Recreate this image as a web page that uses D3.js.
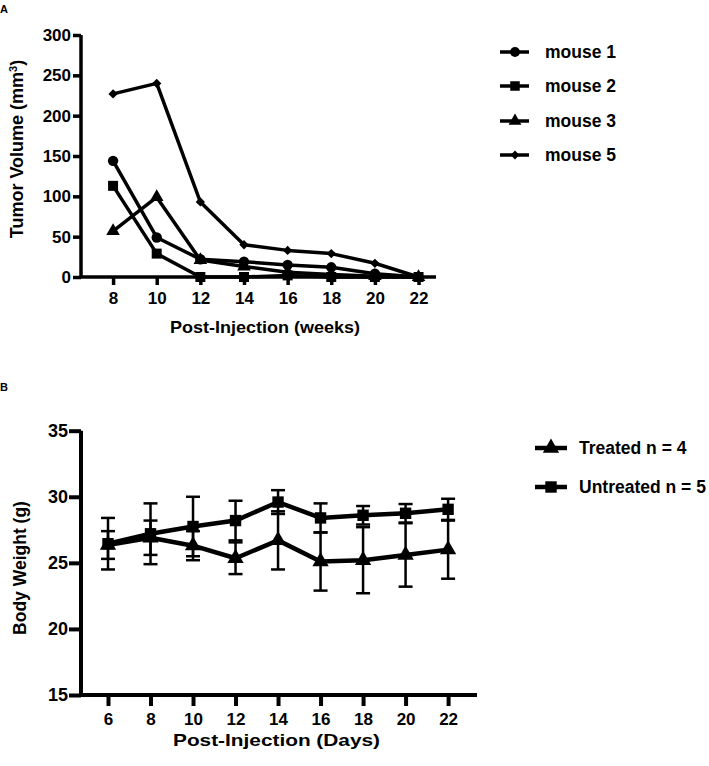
<!DOCTYPE html>
<html><head><meta charset="utf-8">
<script src="https://cdn.jsdelivr.net/npm/d3@7"></script>
<style>body{margin:0;background:#fff}text{font-family:"Liberation Sans",Arial,sans-serif;font-weight:bold;fill:#000}</style>
</head><body><svg id="c" width="709" height="766"></svg>
<script>
// Panel A data
const weeks = [8,10,12,14,16,18,20,22];
const mouse1 = [144,49,22,19,15,12,4,0];
const mouse2 = [113,29,0,0,2,0,0,0];
const mouse3 = [57,99,21,13,6,3,1,0];
const mouse5 = [227,240,93,40,33,29,17,0];
const seriesA = [
  {name:"mouse 1", values:mouse1, sym:"circle"},
  {name:"mouse 2", values:mouse2, sym:"square"},
  {name:"mouse 3", values:mouse3, sym:"triangle"},
  {name:"mouse 5", values:mouse5, sym:"diamond"}
];
const ticksAy = [0,50,100,150,200,250,300];

// Panel B data
const days = [6,8,10,12,14,16,18,20,22];
const treatedMean = [26.35,26.9,26.3,25.35,26.7,25.1,25.2,25.6,26.0];
const treatedSD   = [1.05,1.3,1.1,1.2,2.2,2.2,2.5,2.4,2.2];
const untreatedMean = [26.45,27.2,27.75,28.2,29.6,28.4,28.6,28.75,29.05];
const untreatedSD   = [1.95,2.3,2.25,1.5,0.9,1.1,0.7,0.7,0.8];
const ticksBy = [15,20,25,30,35];
const seriesB = [
  {name:"Treated n = 4", mean:treatedMean, sd:treatedSD, sym:"triangle"},
  {name:"Untreated n = 5", mean:untreatedMean, sd:untreatedSD, sym:"square"}
];

const svg = d3.select("#c");
const symType = {circle:d3.symbolCircle, square:d3.symbolSquare, triangle:d3.symbolTriangle, diamond:d3.symbolDiamond2};

// ---------- Panel A ----------
svg.append("text").attr("x",0).attr("y",13).style("font-size","11px").text("A");
const xA = d3.scaleLinear().domain([6.53,22.8]).range([81,436]);
const yA = d3.scaleLinear().domain([0,300]).range([277,35]);
const sizeA = {circle:85, square:100, triangle:80, diamond:55};

const gA = svg.append("g");
const axAy = gA.append("g").attr("transform","translate(81,0)")
  .call(d3.axisLeft(yA).tickValues(ticksAy).tickSize(8).tickPadding(2));
const axAx = gA.append("g").attr("transform","translate(0,277)")
  .call(d3.axisBottom(xA).tickValues(weeks).tickSize(8).tickPadding(7));
[axAy,axAx].forEach(a=>{
  a.selectAll("path").attr("stroke","#000").attr("stroke-width",3.5);
  a.selectAll("line").attr("stroke","#000").attr("stroke-width",3.5);
  a.selectAll("text").style("font-size","17px").attr("fill","#000");
});
axAy.select("path").attr("d","M0,"+yA(300)+"V"+yA(0));
axAx.select("path").attr("d","M"+xA.range()[0]+",0H"+xA.range()[1]);

const lineA = d3.line().x((d,i)=>xA(weeks[i])).y(d=>yA(d));
seriesA.forEach(s=>{
  gA.append("path").datum(s.values).attr("d",lineA).attr("fill","none")
    .attr("stroke","#000").attr("stroke-width",3.5).attr("stroke-linejoin","round");
  gA.selectAll(null).data(s.values).enter().append("path")
    .attr("transform",(d,i)=>`translate(${xA(weeks[i])},${yA(d)})`)
    .attr("d",d3.symbol().type(symType[s.sym]).size(sizeA[s.sym])).attr("fill","#000");
});
svg.append("text").attr("transform","translate(23,149) rotate(-90)").attr("text-anchor","middle")
  .style("font-size","18px").html('Tumor Volume (mm<tspan dy="-6" style="font-size:11px">3</tspan><tspan dy="6">)</tspan>');
svg.append("text").attr("x",170).attr("y",333).attr("textLength",190).attr("lengthAdjust","spacingAndGlyphs")
  .style("font-size","17px").text("Post-Injection (weeks)");

// Legend A
seriesA.forEach((s,i)=>{
  const y = [52,86,121,155][i];
  svg.append("line").attr("x1",500).attr("x2",529).attr("y1",y).attr("y2",y).attr("stroke","#000").attr("stroke-width",3.5);
  svg.append("path").attr("transform",`translate(515,${y})`).attr("d",d3.symbol().type(symType[s.sym]).size(sizeA[s.sym]*0.9)).attr("fill","#000");
  svg.append("text").attr("x",545).attr("y",y).attr("dy","0.36em").style("font-size","17.5px").text(s.name);
});

// ---------- Panel B ----------
svg.append("text").attr("x",0).attr("y",391).style("font-size","11px").text("B");
const xB = d3.scaleLinear().domain([4.73,23.36]).range([81,477]);
const yB = d3.scaleLinear().domain([15,35]).range([695,430.7]);
const gB = svg.append("g");
const axBy = gB.append("g").attr("transform","translate(81,0)")
  .call(d3.axisLeft(yB).tickValues(ticksBy).tickSize(12).tickPadding(1));
const axBx = gB.append("g").attr("transform","translate(0,695)")
  .call(d3.axisBottom(xB).tickValues(days).tickSize(11).tickPadding(7));
[axBy,axBx].forEach(a=>{
  a.selectAll("path").attr("stroke","#000").attr("stroke-width",4);
  a.selectAll("line").attr("stroke","#000").attr("stroke-width",4);
  a.selectAll("text").style("font-size","18px").attr("fill","#000");
});
axBy.select("path").attr("d","M0,"+yB(35)+"V"+yB(15));
axBx.select("path").attr("d","M"+xB.range()[0]+",0H"+xB.range()[1]);
axBx.selectAll("text").style("font-size","17px");

const sizeB = {square:130, triangle:115};
seriesB.forEach(s=>{
  s.mean.forEach((m,i)=>{
    const x = xB(days[i]);
    const y1 = yB(m+s.sd[i]), y2 = yB(m-s.sd[i]);
    gB.append("line").attr("x1",x).attr("x2",x).attr("y1",y1).attr("y2",y2).attr("stroke","#000").attr("stroke-width",2.5);
    [y1,y2].forEach(yy=>gB.append("line").attr("x1",x-7).attr("x2",x+7).attr("y1",yy).attr("y2",yy).attr("stroke","#000").attr("stroke-width",2.5));
  });
});
const lineB = d3.line().x((d,i)=>xB(days[i])).y(d=>yB(d));
seriesB.forEach(s=>{
  gB.append("path").datum(s.mean).attr("d",lineB).attr("fill","none")
    .attr("stroke","#000").attr("stroke-width",4.5).attr("stroke-linejoin","round");
  gB.selectAll(null).data(s.mean).enter().append("path")
    .attr("transform",(d,i)=>`translate(${xB(days[i])},${yB(d)})`)
    .attr("d",d3.symbol().type(symType[s.sym]).size(sizeB[s.sym])).attr("fill","#000");
});
svg.append("text").attr("transform","translate(26,568) rotate(-90)").attr("text-anchor","middle")
  .style("font-size","17.5px").text("Body Weight (g)");
svg.append("text").attr("x",173).attr("y",746).attr("textLength",207).attr("lengthAdjust","spacingAndGlyphs")
  .style("font-size","17px").text("Post-Injection (Days)");

// Legend B
seriesB.forEach((s,i)=>{
  const y = [448,487][i];
  svg.append("line").attr("x1",535).attr("x2",567).attr("y1",y).attr("y2",y).attr("stroke","#000").attr("stroke-width",4.5);
  svg.append("path").attr("transform",`translate(551,${y})`).attr("d",d3.symbol().type(symType[s.sym]).size(sizeB[s.sym])).attr("fill","#000");
  svg.append("text").attr("x",579).attr("y",y).attr("dy","0.36em").style("font-size","17.5px").text(s.name);
});
</script></body></html>
